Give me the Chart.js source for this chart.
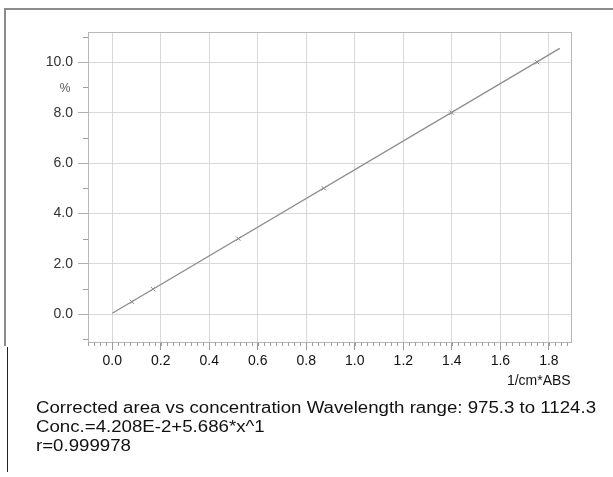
<!DOCTYPE html>
<html>
<head>
<meta charset="utf-8">
<script src="https://cdn.jsdelivr.net/npm/chart.js@4"></script>
<style>
  html, body { margin: 0; padding: 0; background: #ffffff; }
  #wrap { position: relative; width: 613px; height: 477px; overflow: hidden; }
  #caption {
    position: absolute; left: 36px; top: 398px;
    font-family: "Liberation Sans", Arial, sans-serif; font-size: 16px; line-height: 19px;
    color: #111; white-space: nowrap;
    transform: scaleX(1.166); transform-origin: left top;
  }
</style>
</head>
<body>
<div id="wrap">
  <canvas id="c"></canvas>
  <div id="caption">
    <div>Corrected area vs concentration Wavelength range: 975.3 to 1124.3</div>
    <div>Conc.=4.208E-2+5.686*x^1</div>
    <div>r=0.999978</div>
  </div>
</div>
<script>
// ---- data ----
const standardsX = [0.081, 0.168, 0.520, 0.872, 1.400, 1.752];   // 1/cm*ABS
const standardsY = [0.5, 1.0, 3.0, 5.0, 8.0, 10.0];              // %
const fitLineX = [0.0, 1.845];
const fitLineY = [0.04, 10.55];
const xTickValues = [0.0, 0.2, 0.4, 0.6, 0.8, 1.0, 1.2, 1.4, 1.6, 1.8];
const yTickValues = [0.0, 2.0, 4.0, 6.0, 8.0, 10.0];
const xAxisTitle = '1/cm*ABS';
const yAxisUnit = '%';

const FONT = '"Liberation Sans", Arial, sans-serif';

const decor = {
  id: 'decor',
  beforeDraw(chart) {
    const ctx = chart.ctx;
    ctx.save();
    // outer scanned-page frame
    ctx.strokeStyle = '#8c8c8c';
    ctx.lineWidth = 2;
    ctx.beginPath();
    ctx.moveTo(5, 346); ctx.lineTo(5, 9); ctx.lineTo(613, 9);
    ctx.stroke();
    ctx.strokeStyle = '#222';
    ctx.lineWidth = 1;
    ctx.beginPath();
    ctx.moveTo(7.5, 347); ctx.lineTo(7.5, 472);
    ctx.stroke();
    ctx.restore();
  },
  afterDraw(chart) {
    const ctx = chart.ctx;
    const a = chart.chartArea;
    const xs = chart.scales.x, ys = chart.scales.y;
    ctx.save();
    // plot frame
    ctx.strokeStyle = '#b8b8b8';
    ctx.lineWidth = 1;
    ctx.strokeRect(Math.round(a.left) + 0.5, Math.round(a.top) + 0.5,
                   Math.round(a.right - a.left), Math.round(a.bottom - a.top));
    // minor ticks on x axis
    ctx.strokeStyle = '#a0a0a0';
    ctx.beginPath();
    for (let i = -4; i <= 76; i++) {
      const v = i * 0.025;
      if (v < xs.min || v > xs.max) continue;
      const px = Math.round(xs.getPixelForValue(v)) + 0.5;
      ctx.moveTo(px, a.bottom); ctx.lineTo(px, a.bottom + 4);
    }
    // minor ticks on y axis (odd values)
    for (let v = -1; v <= 11; v += 2) {
      if (v < ys.min || v > ys.max) continue;
      const py = Math.round(ys.getPixelForValue(v)) + 0.5;
      ctx.moveTo(a.left, py); ctx.lineTo(a.left - 5, py);
    }
    ctx.stroke();
    // unit label on y axis
    ctx.fillStyle = '#555';
    ctx.font = '12px ' + FONT;
    ctx.textAlign = 'center';
    ctx.textBaseline = 'middle';
    ctx.fillText(yAxisUnit, 65, ys.getPixelForValue(9.0) + 1);
    ctx.restore();
  }
};

new Chart(document.getElementById('c'), {
  type: 'scatter',
  data: {
    datasets: [
      {
        type: 'line',
        data: fitLineX.map((x, i) => ({ x, y: fitLineY[i] })),
        borderColor: '#8f8f8f',
        borderWidth: 1.4,
        pointRadius: 0,
        fill: false
      },
      {
        data: standardsX.map((x, i) => ({ x, y: standardsY[i] })),
        pointStyle: 'crossRot',
        pointRadius: 3,
        borderColor: '#888',
        borderWidth: 1,
        backgroundColor: '#888'
      }
    ]
  },
  options: {
    responsive: true,
    maintainAspectRatio: false,
    animation: false,
    devicePixelRatio: 1,
    layout: { padding: { left: 0, top: 32, right: 42.3, bottom: 87.6 } },
    plugins: { legend: { display: false }, tooltip: { enabled: false }, title: { display: false } },
    scales: {
      x: {
        type: 'linear',
        position: 'bottom',
        min: -0.1,
        max: 1.89,
        afterBuildTicks: s => { s.ticks = xTickValues.map(v => ({ value: v })); },
        afterFit: s => { s.height = 47.4; },
        grid: { color: '#d9d9d9', lineWidth: 1, tickLength: 8, tickColor: '#9a9a9a' },
        border: { display: true, color: '#b8b8b8' },
        ticks: {
          autoSkip: false, maxRotation: 0, padding: 3,
          color: '#111', font: { family: FONT, size: 14 },
          callback: v => Number(v).toFixed(1)
        },
        title: {
          display: true, text: xAxisTitle, align: 'end',
          color: '#111', font: { family: FONT, size: 14 }, padding: { top: 0, bottom: 0 }
        }
      },
      y: {
        type: 'linear',
        min: -1.1,
        max: 11.2,
        afterBuildTicks: s => { s.ticks = yTickValues.map(v => ({ value: v })); },
        afterFit: s => { s.width = 88; },
        grid: { color: '#d9d9d9', lineWidth: 1, tickLength: 10, tickColor: '#b0b0b0' },
        border: { display: true, color: '#b8b8b8' },
        ticks: {
          padding: 5, color: '#333', font: { family: FONT, size: 14 },
          callback: v => Number(v).toFixed(1)
        }
      }
    }
  },
  plugins: [decor]
});
</script>
</body>
</html>
